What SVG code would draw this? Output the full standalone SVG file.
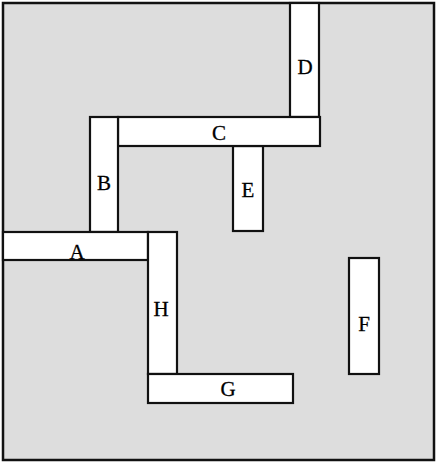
<svg xmlns="http://www.w3.org/2000/svg" width="438" height="462" viewBox="0 0 438 462">
<style>
.box{fill:#ffffff;stroke:#111111;stroke-width:2.2}
.lbl{font-family:"Liberation Serif","Times New Roman",serif;font-size:21px;fill:#000000;stroke:#000000;stroke-width:0.3;text-anchor:middle}
</style>
<rect x="0" y="0" width="438" height="462" fill="#ffffff"/>
<rect id="frame" x="3" y="3" width="431" height="457" fill="#dddddd" stroke="#111111" stroke-width="2.5"/>
<g id="connectors"></g>
<g id="D"><rect class="box" x="290" y="3" width="29" height="114"/><text class="lbl" x="305" y="74">D</text></g>
<g id="E"><rect class="box" x="233" y="146" width="30" height="85"/><text class="lbl" x="248" y="197">E</text></g>
<g id="C"><rect class="box" x="118" y="117" width="202" height="29"/><text class="lbl" x="219" y="140">C</text></g>
<g id="B"><rect class="box" x="90" y="117" width="28" height="115"/><text class="lbl" x="104" y="190">B</text></g>
<g id="A"><rect class="box" x="3" y="232" width="145" height="28"/><text class="lbl" x="77" y="259">A</text></g>
<g id="H"><rect class="box" x="148" y="232" width="29" height="142"/><text class="lbl" x="161" y="316">H</text></g>
<g id="G"><rect class="box" x="148" y="374" width="145" height="29"/><text class="lbl" x="228" y="396">G</text></g>
<g id="F"><rect class="box" x="349" y="258" width="30" height="116"/><text class="lbl" x="364" y="331">F</text></g>
</svg>
